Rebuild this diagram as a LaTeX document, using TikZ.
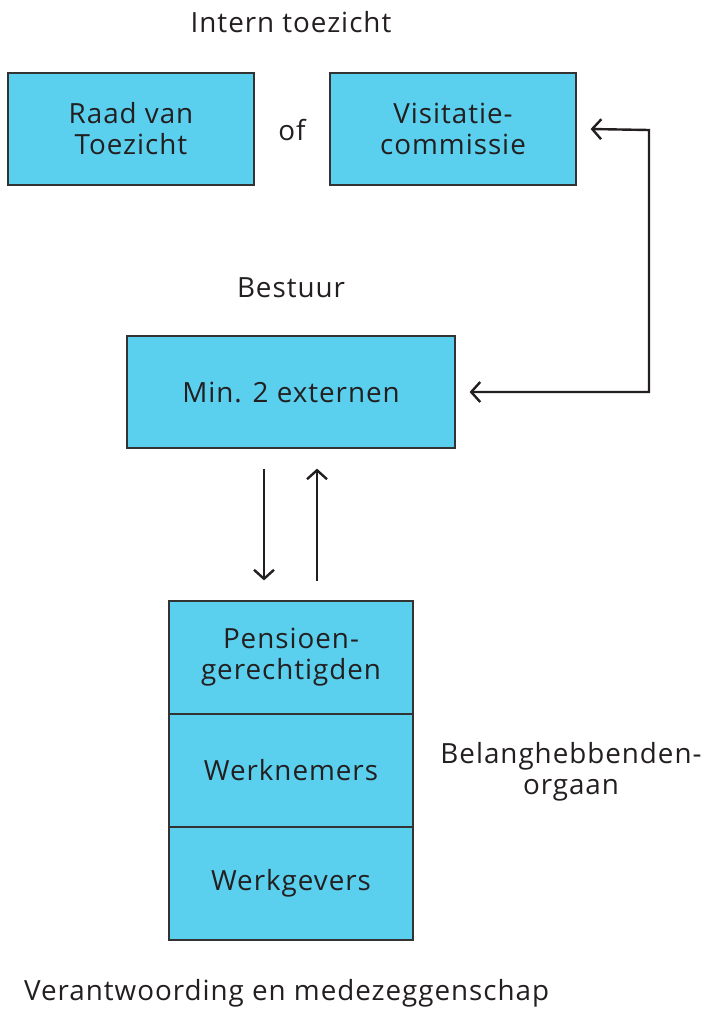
\documentclass[tikz,border=0pt]{standalone}
\usepackage{fontspec}
\setmainfont{Open Sans}[LetterSpace=3.5]
\usetikzlibrary{arrows.meta}
\definecolor{boxfill}{HTML}{5AD0EE}
\definecolor{boxline}{HTML}{333333}
\definecolor{ink}{HTML}{231F20}
\begin{document}
\begin{tikzpicture}[x=1pt,y=-1pt,
  lbl/.style={text=ink,font=\fontsize{27.8}{31}\selectfont,align=center,inner sep=0pt},
  boxA/.style={draw=boxline,line width=1.2pt,fill=boxfill},
  conn/.style={draw=ink,line width=2.4pt,{Straight Barb[length=9pt,width=20pt,line width=2.4pt]}-{Straight Barb[length=9pt,width=20pt,line width=2.4pt]}},
  oneway/.style={draw=ink,line width=2.4pt,-{Straight Barb[length=9pt,width=20pt,line width=2.4pt]}}]
\useasboundingbox (0,0) rectangle (707,1010);
% titles
\node[lbl] (intern) at (291,22) {Intern toezicht};
\node[lbl] (bestuurT) at (291,288) {Bestuur};
\node[lbl] (of) at (292,130) {of};
% top boxes
\node[boxA,lbl,minimum width=246pt,minimum height=112pt] (rvt) at (131,129) {Raad van\\Toezicht};
\node[boxA,lbl,minimum width=246pt,minimum height=112pt] (visit) at (453,129) {Visitatie-\\commissie};
% bestuur box
\node[boxA,lbl,minimum width=328pt,minimum height=112pt] (best) at (291,392) {Min. 2 externen};
% stack
\node[boxA,lbl,minimum width=244pt,minimum height=113pt] (pens) at (291,657.5) {Pensioen-\\gerechtigden};
\node[boxA,lbl,minimum width=244pt,minimum height=113pt] (wn) at (291,770.5) {Werknemers};
\node[boxA,lbl,minimum width=244pt,minimum height=113pt] (wg) at (291,883.5) {Werkgevers};
\node[lbl] (belang) at (571,772) {Belanghebbenden-\\orgaan};
\node[lbl,anchor=west] (verant) at (24,993) {Verantwoording en medezeggenschap};
% connectors
\coordinate (aT) at ([xshift=14pt]visit.east);
\coordinate (aB) at ([xshift=14pt]best.east);
\draw[conn] (aT) -- (649,130) |- (aB);
\draw[oneway] ([xshift=-27pt,yshift=-20pt]best.south) -- ([xshift=-27pt,yshift=20pt]pens.north);
\draw[oneway] ([xshift=26pt,yshift=19pt]pens.north) -- ([xshift=26pt,yshift=-20pt]best.south);
\end{tikzpicture}
\end{document}
